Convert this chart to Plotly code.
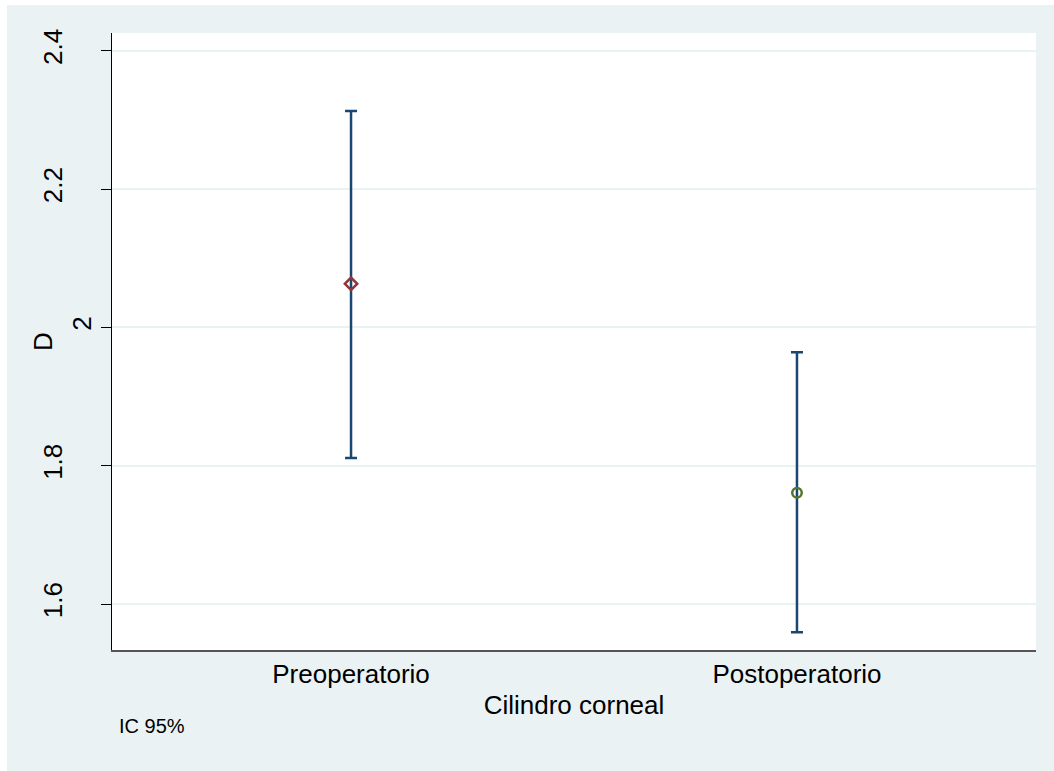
import plotly.graph_objects as go

# Mean corneal cylinder (D) with 95% confidence interval
categories = ["Preoperatorio", "Postoperatorio"]
means = [2.063, 1.761]
ci_lower = [1.811, 1.559]
ci_upper = [2.313, 1.964]
y_ticks = [1.6, 1.8, 2.0, 2.2, 2.4]
y_tick_labels = ["1.6", "1.8", "2", "2.2", "2.4"]

marker_symbols = ["diamond-open", "circle-open"]
marker_colors = ["#90353b", "#55752f"]

err_plus = [u - m for u, m in zip(ci_upper, means)]
err_minus = [m - l for m, l in zip(means, ci_lower)]

FONT = "Liberation Sans, Arial, sans-serif"
BG = "#eaf2f3"
Y_RANGE = [1.5335, 2.4256]

# Vertical tick labels are right-aligned by their text length, so the
# short label sits closer to the axis than the longer ones.
short_idx = [i for i, t in enumerate(y_tick_labels) if len(t) == 1]
long_text = ["" if i in short_idx else t for i, t in enumerate(y_tick_labels)]
short_vals = [y_ticks[i] for i in short_idx]
short_text = [y_tick_labels[i] for i in short_idx]

fig = go.Figure()
fig.add_trace(go.Scatter(
    x=categories,
    y=means,
    mode="markers",
    marker=dict(symbol=marker_symbols, size=9.5, color=marker_colors,
                line=dict(width=2.5, color=marker_colors)),
    error_y=dict(type="data", symmetric=False, array=err_plus,
                 arrayminus=err_minus, color="#1a476f", thickness=2.5,
                 width=6),
    showlegend=False,
    hoverinfo="skip",
))
# invisible trace that anchors the overlay axis
fig.add_trace(go.Scatter(x=categories, y=means, yaxis="y2", mode="markers",
                         marker=dict(opacity=0), showlegend=False,
                         hoverinfo="skip"))

fig.update_layout(
    width=1054,
    height=771,
    margin=dict(l=112, r=18, t=33, b=121),
    paper_bgcolor=BG,
    plot_bgcolor="white",
    font=dict(family=FONT, size=26, color="black"),
    xaxis=dict(
        type="category",
        range=[-0.536, 1.536],
        showgrid=False,
        ticks="",
        showline=True,
        linecolor="#555555",
        linewidth=2,
        zeroline=False,
        tickfont=dict(size=26),
        title=dict(text="Cilindro corneal", font=dict(size=26), standoff=8),
    ),
    yaxis=dict(
        range=Y_RANGE,
        tickvals=y_ticks,
        ticktext=long_text,
        tickangle=-90,
        ticks="outside",
        ticklen=10,
        tickcolor="black",
        tickwidth=1,
        ticklabelstandoff=29,
        showline=True,
        linecolor="black",
        linewidth=1,
        showgrid=True,
        gridcolor=BG,
        gridwidth=2,
        zeroline=False,
        tickfont=dict(size=26),
    ),
    yaxis2=dict(
        overlaying="y",
        side="left",
        range=Y_RANGE,
        tickvals=short_vals,
        ticktext=short_text,
        tickangle=-90,
        ticks="outside",
        ticklen=10,
        tickcolor="rgba(0,0,0,0)",
        showline=False,
        showgrid=False,
        zeroline=False,
        tickfont=dict(size=26),
        title=dict(text="D", font=dict(size=26), standoff=6),
    ),
    shapes=[
        # thin white strips along the top and left edges of the canvas
        dict(type="rect", xref="paper", yref="paper", layer="below",
             x0=-0.2, x1=1.1, y0=(650 - 5) / 617, y1=1.2,
             fillcolor="white", line=dict(width=0)),
        dict(type="rect", xref="paper", yref="paper", layer="below",
             x0=-0.2, x1=(7 - 112) / 924, y0=-0.3, y1=1.2,
             fillcolor="white", line=dict(width=0)),
    ],
    annotations=[
        dict(text="IC 95%", xref="paper", yref="paper",
             x=(117 - 112) / 924, y=-(739 - 650) / 617,
             xanchor="left", yanchor="bottom", showarrow=False,
             font=dict(size=20, family=FONT, color="black")),
    ],
)

fig.write_html("out.html")
